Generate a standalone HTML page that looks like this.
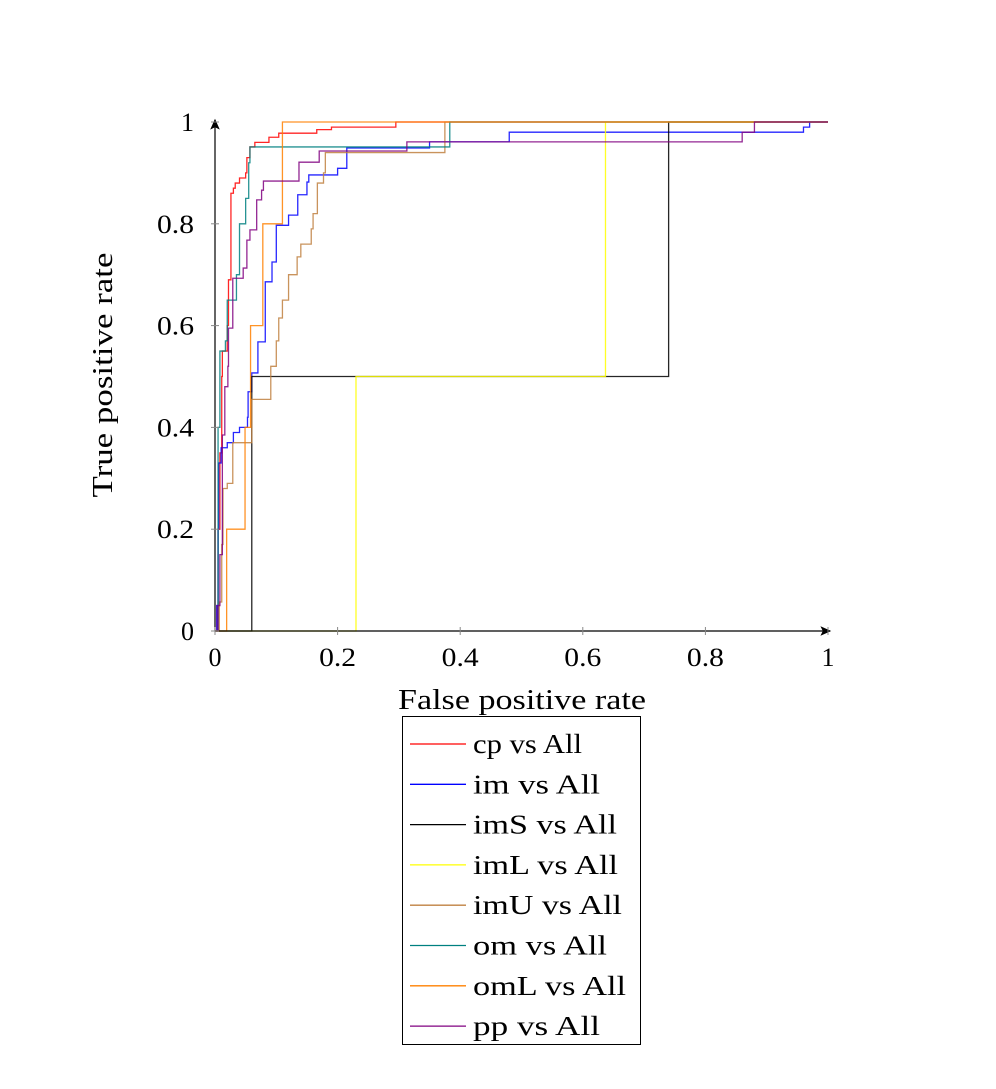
<!DOCTYPE html>
<html><head><meta charset="utf-8"><style>
html,body{margin:0;padding:0;background:#fff;}
svg text{font-family:"Liberation Serif",serif;fill:#000;}
</style></head><body>
<svg id="chart" width="996" height="1084" viewBox="0 0 996 1084" xmlns="http://www.w3.org/2000/svg">
<defs><marker id="arr" markerWidth="10" markerHeight="8" refX="8" refY="4" orient="auto"><path d="M0,0 L9,4 L0,8 L2,4 z" fill="#000"/></marker></defs>
<g id="curves"></g>
<g id="axes"></g>
<text x="522" y="709" font-size="28" text-anchor="middle" textLength="248" lengthAdjust="spacingAndGlyphs">False positive rate</text>
<text x="0" y="0" font-size="28" text-anchor="middle" textLength="245" lengthAdjust="spacingAndGlyphs" transform="translate(112,375) rotate(-90)">True positive rate</text>
<g id="legend"></g>
</svg>
<script>
const xTicks=[0,0.2,0.4,0.6,0.8,1];
const yTicks=[0,0.2,0.4,0.6,0.8,1];
const tickLabels=["0","0.2","0.4","0.6","0.8","1"];
const seriesNames=["cp vs All","im vs All","imS vs All","imL vs All","imU vs All","om vs All","omL vs All","pp vs All"];
const seriesColors=["#ff0000","#0000ff","#000000","#ffff00","#bf8040","#008080","#ff8000","#800080"];
const cpF=[0,0.003,0.005,0.008,0.011,0.012,0.02,0.022,0.026,0.03,0.033,0.04,0.05,0.052,0.057,0.065,0.088,0.104,0.166,0.19,0.295,1];
const cpT=[0,0.05,0.2,0.35,0.5,0.55,0.6,0.69,0.86,0.87,0.88,0.89,0.9,0.93,0.951,0.96,0.97,0.978,0.985,0.99,1,1];
const imF=[0,0.003,0.005,0.006,0.01,0.02,0.03,0.04,0.053,0.054,0.06,0.07,0.082,0.093,0.1,0.12,0.135,0.15,0.153,0.2,0.215,0.35,0.48,0.96,0.97,1];
const imT=[0,0.05,0.2,0.33,0.36,0.37,0.39,0.4,0.42,0.47,0.507,0.568,0.686,0.725,0.797,0.817,0.857,0.882,0.896,0.909,0.949,0.961,0.98,0.99,1,1];
const imsF=[0,0.06,0.74,1];
const imsT=[0,0.5,1,1];
const imlF=[0,0.23,0.637,1];
const imlT=[0,0.5,1,1];
const imuF=[0,0.007,0.011,0.013,0.02,0.029,0.06,0.091,0.1,0.104,0.11,0.12,0.134,0.14,0.157,0.16,0.167,0.177,0.18,0.375,1];
const imuT=[0,0.057,0.17,0.28,0.29,0.37,0.455,0.52,0.57,0.615,0.65,0.7,0.735,0.76,0.79,0.82,0.88,0.9,0.94,1,1];
const omF=[0,0.005,0.008,0.017,0.02,0.035,0.04,0.04,0.05,0.055,0.057,0.383,1];
const omT=[0,0.4,0.55,0.57,0.65,0.7,0.72,0.8,0.85,0.92,0.951,1,1];
const omlF=[0,0.019,0.049,0.058,0.078,0.11,1];
const omlT=[0,0.2,0.4,0.6,0.8,1,1];
const ppF=[0,0.005,0.008,0.012,0.016,0.021,0.022,0.029,0.046,0.052,0.057,0.068,0.076,0.079,0.137,0.17,0.313,0.86,0.88,1];
const ppT=[0,0.05,0.15,0.385,0.48,0.52,0.595,0.693,0.713,0.768,0.788,0.847,0.866,0.884,0.921,0.943,0.961,0.98,1,1];
const seriesF=[cpF,imF,imsF,imlF,imuF,omF,omlF,ppF];
const seriesT=[cpT,imT,imsT,imlT,imuT,omT,omlT,ppT];

const NS="http://www.w3.org/2000/svg";
const X0=215,X1=828,Y0=631,Y1=122;
function sx(v){return X0+(X1-X0)*v;}
function sy(v){return Y0-(Y0-Y1)*v;}
function mk(tag,attrs,parent){const e=document.createElementNS(NS,tag);for(const k in attrs)e.setAttribute(k,attrs[k]);parent.appendChild(e);return e;}
const curves=document.getElementById('curves'),axes=document.getElementById('axes'),legend=document.getElementById('legend');
seriesF.forEach((F,i)=>{
  const T=seriesT[i];
  let d="M"+sx(F[0])+","+sy(T[0]);
  for(let k=1;k<F.length;k++){d+=" L"+sx(F[k])+","+sy(T[k-1])+" L"+sx(F[k])+","+sy(T[k]);}
  const p=mk('path',{d:d,fill:'none',stroke:seriesColors[i],'stroke-width':1.3,'stroke-opacity':0.85},curves);
  
  
});
const xa=mk('line',{x1:X0,y1:Y0,x2:X1+2,y2:Y0,stroke:'#000','stroke-width':1.2,'marker-end':'url(#arr)'},axes);


const ya=mk('line',{x1:X0,y1:Y0,x2:X0,y2:Y1-2,stroke:'#000','stroke-width':1.2,'marker-end':'url(#arr)'},axes);


xTicks.forEach((v,i)=>{
  mk('line',{x1:sx(v),y1:Y0-4,x2:sx(v),y2:Y0+4,stroke:'#888','stroke-width':1},axes);
  const a={x:sx(v),y:Y0+35,'font-size':26,'text-anchor':'middle'};
  if(tickLabels[i].length>1){a.textLength=37;a.lengthAdjust='spacingAndGlyphs';}
  const t=mk('text',a,axes);
  t.textContent=tickLabels[i];
  
  
});
yTicks.forEach((v,i)=>{
  mk('line',{x1:X0-4,y1:sy(v),x2:X0+4,y2:sy(v),stroke:'#888','stroke-width':1},axes);
  const a={x:X0-21,y:sy(v)+9,'font-size':26,'text-anchor':'end'};
  if(tickLabels[i].length>1){a.textLength=37;a.lengthAdjust='spacingAndGlyphs';}
  const t=mk('text',a,axes);
  t.textContent=tickLabels[i];
  
  
});
const legendWidths=[109,127,144,145,149,134,153,127];
mk('rect',{x:402.5,y:716.5,width:238,height:328,fill:'#fff',stroke:'#000','stroke-width':1},legend);
seriesNames.forEach((n,i)=>{
  const y=744+i*40.3;
  const g=mk('g',{},legend);
  
  
  mk('line',{x1:410,y1:y,x2:466,y2:y,stroke:seriesColors[i],'stroke-width':1.3},g);
  const t=mk('text',{x:473,y:y+9,'font-size':27,textLength:legendWidths[i],lengthAdjust:'spacingAndGlyphs'},g);
  t.textContent=n;
});
</script>
</body></html>
